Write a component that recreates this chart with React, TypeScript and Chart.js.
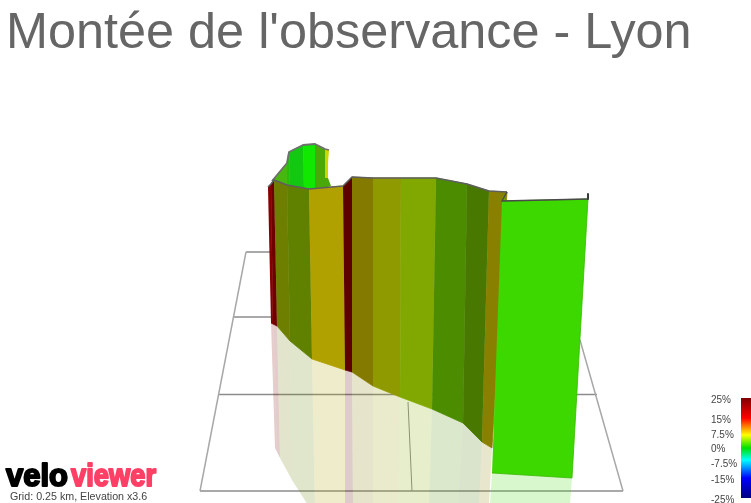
import React, { useEffect, useRef } from "react";
import { Chart, registerables } from "chart.js";

Chart.register(...registerables);

const titleText = "Montée de l'observance - Lyon";
const gridCaption = "Grid: 0.25 km, Elevation x3.6";
const brandDark = "velo";
const brandPink = "viewer";

// Wall, left to right: ridge line, foot line, colour of the strip between two stations
const ridgeX = [268, 271, 274, 287, 309, 343, 352, 373, 401, 436, 467, 489, 507];
const ridgeY = [187, 184, 180, 185, 189, 186, 177, 178, 178, 178, 184, 191, 192];
const footX = [271, 273, 277, 290, 312, 345, 352, 373, 400, 432, 463, 482, 492];
const footY = [323, 324, 326, 341, 359, 370, 372, 386, 397, 409, 423, 442, 448];
const mirrorX = [275, 277, 280, 292, 315, 345, 353, 373, 398, 429, 458, 479, 489];
const mirrorY = [448, 452, 458, 480, 516, 504, 504, 504, 504, 504, 504, 504, 504];
const stripColors = ["#860000", "#6e0000", "#6e7f00", "#608000", "#b0a000", "#5c0000", "#857a00", "#8f9a00", "#80a800", "#4c8c00", "#487800", "#8a8000"];

// Far side of the climb, seen behind the wall
const backTopX = [272, 287, 289, 303, 315, 325];
const backTopY = [181, 163, 152, 145, 144, 149];
const backBaseX = [274, 287, 290, 304, 315, 325];
const backBaseY = [181, 185, 186, 189, 190, 188];
const backColors = ["#48b810", "#22c008", "#12c810", "#10e800", "#4aa808"];
const backSliverX = [325, 329, 328, 328, 325];
const backSliverY = [149, 150, 163, 178, 178];
const backFootX = [325, 328, 331, 325];
const backFootY = [178, 178, 186, 188];

// Last segment, facing the viewer
const panelX = [502, 588, 572, 492];
const panelY = [201, 199, 478, 473];
const panelMirrorX = [492, 572, 570, 490];
const panelMirrorY = [473, 478, 504, 504];
const panelColor = "#3cd800";
const sliverX = [507, 501, 504];
const sliverY = [192, 201, 201];
const capX = [588, 588];
const capY = [194, 199];

// Ground grid: [x1, y1, x2, y2]
const gridRuleA = [200, 491, 623, 491];
const gridRuleB = [219, 394.5, 597, 394.5];
const gridRuleD = [234, 317, 280, 317];
const gridRuleE = [246, 252, 280, 252];
const gridRuleF = [408, 402, 412, 491];
const gridSideL = [200, 491, 246, 252];
const gridSideR = [623, 491, 580, 340];

// Colour scale
const scaleLabels = ["25%", "15%", "7.5%", "0%", "-7.5%", "-15%", "-25%"];
const scaleLabelY = [400, 420, 435, 449, 464, 480, 500];
const rampStops = [0, 0.2, 0.29, 0.37, 0.5, 0.62, 0.8, 1];
const rampColors = ["#800000", "#ff0000", "#ff8800", "#ffff00", "#00e000", "#00ffff", "#0000ff", "#000080"];
const rampX = [741, 751, 751, 741];
const rampY = [398, 398, 498, 498];

const xy = (xs: number[], ys: number[]) => xs.map((x, i) => ({ x, y: ys[i] }));

const shape = (xs: number[], ys: number[], color: any, edge?: string) => ({
  data: xy(xs, ys),
  showLine: true,
  fill: "shape",
  backgroundColor: color,
  borderColor: edge || "rgba(0,0,0,0)",
  borderWidth: edge ? 0.8 : 0,
  pointRadius: 0,
  tension: 0,
});

const stroke = (xs: number[], ys: number[], color: string, width: number) => ({
  data: xy(xs, ys),
  showLine: true,
  fill: false,
  borderColor: color,
  borderWidth: width,
  pointRadius: 0,
  tension: 0,
  borderJoinStyle: "round",
});

const rule = (r: number[], color: string, width: number) =>
  stroke([r[0], r[2]], [r[1], r[3]], color, width);

const tint = (hex: string, alpha: number) => {
  const n = parseInt(hex.slice(1), 16);
  return `rgba(${n >> 16},${(n >> 8) & 255},${n & 255},${alpha})`;
};

const textLayer = {
  id: "textLayer",
  afterDraw(chart: any) {
    const ctx = chart.ctx;
    ctx.save();
    ctx.textBaseline = "middle";
    ctx.textAlign = "left";
    ctx.fillStyle = "#444444";
    ctx.font = "10px 'Liberation Sans'";
    scaleLabels.forEach((t, i) => ctx.fillText(t, 711, scaleLabelY[i]));
    ctx.font = "10.7px 'Liberation Sans'";
    ctx.fillText(gridCaption, 10, 497.5);
    ctx.textBaseline = "alphabetic";
    ctx.font = "bold 31px 'Liberation Sans'";
    ctx.lineJoin = "round";
    ctx.lineWidth = 2;
    ctx.fillStyle = ctx.strokeStyle = "#000000";
    ctx.fillText(brandDark, 6, 486, 64);
    ctx.strokeText(brandDark, 6, 486, 64);
    ctx.fillStyle = ctx.strokeStyle = "#ff4066";
    ctx.fillText(brandPink, 71, 486, 85);
    ctx.strokeText(brandPink, 71, 486, 85);
    ctx.restore();
  },
};

export default function App() {
  const ref = useRef<HTMLCanvasElement>(null);
  useEffect(() => {
    const canvas = ref.current!;
    const g = canvas.getContext("2d")!;
    const ramp = g.createLinearGradient(0, rampY[0], 0, rampY[2]);
    rampStops.forEach((s, i) => ramp.addColorStop(s, rampColors[i]));

    const layers: any[] = [];
    [gridRuleA, gridRuleB, gridRuleD, gridRuleE].forEach((r) => layers.push(rule(r, "#8c8c8c", 1.5)));
    layers.push(rule(gridRuleF, "#8c8c8c", 1));
    layers.push(rule(gridSideL, "#a8a8a8", 1.5));
    layers.push(rule(gridSideR, "#a8a8a8", 1.5));

    backColors.forEach((c, i) => {
      const ix = [backTopX[i], backTopX[i + 1] ?? backSliverX[0], backBaseX[i + 1] ?? backBaseX[i], backBaseX[i]];
      const iy = [backTopY[i], backTopY[i + 1] ?? backSliverY[0], backBaseY[i + 1] ?? backBaseY[i], backBaseY[i]];
      layers.push(shape(ix, iy, c, c));
    });
    layers.push(shape(backSliverX, backSliverY, "#c8d800"));
    layers.push(shape(backFootX, backFootY, "#4aa808"));
    layers.push(stroke([...backTopX, backSliverX[1]], [...backTopY, backSliverY[1]], "#707070", 1.8));

    stripColors.forEach((c, i) => {
      layers.push(shape(
        [footX[i], footX[i + 1], mirrorX[i + 1], mirrorX[i]],
        [footY[i], footY[i + 1], mirrorY[i + 1], mirrorY[i]],
        tint(c, 0.2)
      ));
    });
    stripColors.forEach((c, i) => {
      layers.push(shape(
        [ridgeX[i], ridgeX[i + 1], footX[i + 1], footX[i]],
        [ridgeY[i], ridgeY[i + 1], footY[i + 1], footY[i]],
        c,
        c
      ));
    });
    layers.push(stroke(ridgeX, ridgeY, "#5f5f5f", 1.6));
    layers.push(shape(sliverX, sliverY, "#60c000"));
    layers.push(shape(panelMirrorX, panelMirrorY, tint(panelColor, 0.2)));
    layers.push(shape(panelX, panelY, panelColor, "#3ab800"));
    layers.push(stroke([ridgeX[12], panelX[0], panelX[1]], [ridgeY[12], panelY[0], panelY[1]], "#4a4a4a", 1.5));
    layers.push(stroke(capX, capY, "#3a3a3a", 2));
    layers.push(shape(rampX, rampY, ramp));

    layers.forEach((d, i) => (d.order = layers.length - i));

    const chart = new Chart(canvas, {
      type: "scatter",
      data: { datasets: layers },
      plugins: [textLayer],
      options: {
        animation: false,
        responsive: false,
        layout: { padding: { left: 6 } },
        plugins: {
          legend: { display: false },
          tooltip: { enabled: false },
          title: {
            display: true,
            text: titleText,
            align: "start",
            color: "#666666",
            font: { family: "'Liberation Sans'", size: 50.4, weight: "normal", lineHeight: 1.2 },
            padding: { top: 4, bottom: 3 },
          },
        },
        scales: {
          x: { type: "linear", display: false, min: 6, max: 751 },
          y: { type: "linear", display: false, reverse: true, min: 67.48, max: 503 },
        },
      },
    } as any);
    return () => chart.destroy();
  }, []);
  return (
    <canvas
      ref={ref}
      width={751}
      height={503}
      style={{ position: "absolute", left: 0, top: 0, width: 751, height: 503 }}
    />
  );
}
